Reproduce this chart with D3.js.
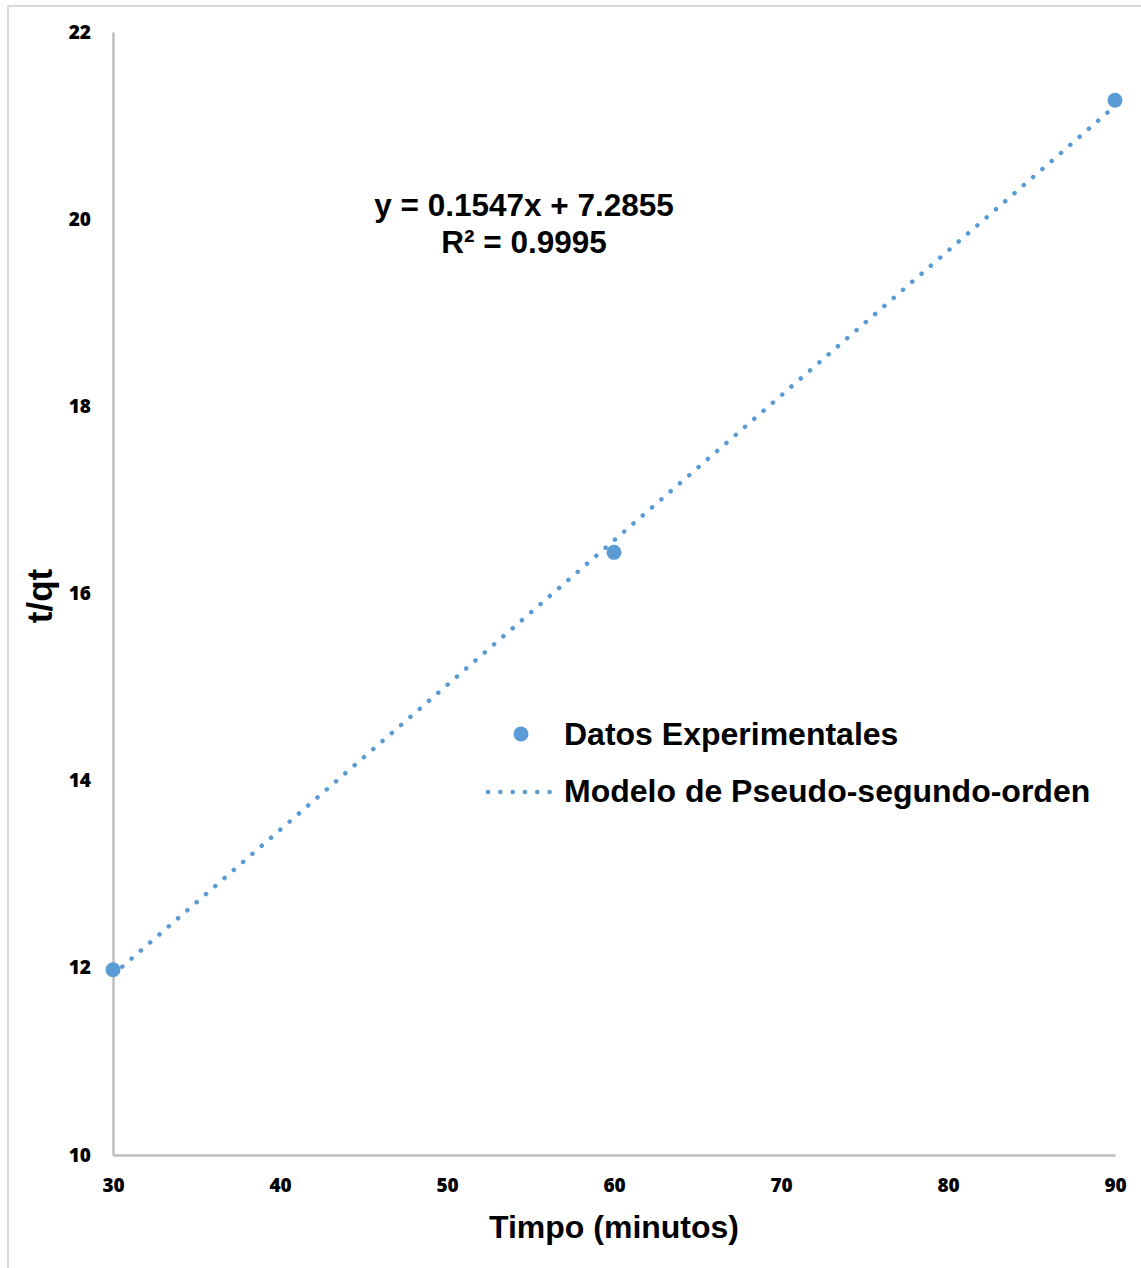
<!DOCTYPE html>
<html>
<head>
<meta charset="utf-8">
<script src="https://cdn.jsdelivr.net/npm/d3@7"></script>
<style>
  html, body { margin: 0; padding: 0; background: #fff; }
  svg { display: block; }
</style>
</head>
<body>
<script>
// Kinetic data: time (min) vs t/qt
const tiempo = [30, 60, 90];
const tqt = [11.98, 16.44, 21.27];

// Linear fit of the pseudo-second-order model
const slope = 0.1547;
const intercept = 7.2855;
const r2 = 0.9995;

const xTicks = [30, 40, 50, 60, 70, 80, 90];
const yTicks = [10, 12, 14, 16, 18, 20, 22];

const seriesNames = ["Datos Experimentales", "Modelo de Pseudo-segundo-orden"];

const W = 1141, H = 1268;
const color = "#5b9bd5";
const tickFont = "'Open Sans', sans-serif";
const labelFont = "'Liberation Sans', Arial, sans-serif";

const svg = d3.select("body").append("svg")
  .attr("width", W).attr("height", H);

// chart area frame
svg.append("rect")
  .attr("x", 8).attr("y", 6)
  .attr("width", W + 20).attr("height", H + 20)
  .attr("fill", "#fff")
  .attr("stroke", "#d9d9d9").attr("stroke-width", 2);

const x = d3.scaleLinear().domain([30, 90]).range([113, 1115]);
const y = d3.scaleLinear().domain([10, 22]).range([1155, 32]);

// axes (lines only, no tick marks)
const xAxis = d3.axisBottom(x).tickValues(xTicks).tickSize(0).tickPadding(24);
const yAxis = d3.axisLeft(y).tickValues(yTicks).tickSize(0).tickPadding(22);

const gx = svg.append("g").attr("transform", `translate(0,${y(10)})`).call(xAxis);
gx.select(".domain").attr("stroke", "#bfbfbf").attr("stroke-width", 2.5);
gx.selectAll("text")
  .attr("font-family", tickFont).attr("font-weight", 800)
  .attr("font-size", 19).attr("fill", "#000");

const gy = svg.append("g").attr("transform", `translate(${x(30)},0)`).call(yAxis);
gy.select(".domain").attr("stroke", "#bfbfbf").attr("stroke-width", 2.5);
gy.selectAll("text")
  .attr("font-family", tickFont).attr("font-weight", 800)
  .attr("font-size", 19).attr("fill", "#000");

// trend line
const xs = [30, 90];
svg.append("line")
  .attr("x1", x(xs[0])).attr("y1", y(slope * xs[0] + intercept))
  .attr("x2", x(xs[1])).attr("y2", y(slope * xs[1] + intercept))
  .attr("stroke", color).attr("stroke-width", 4.5)
  .attr("stroke-linecap", "round")
  .attr("stroke-dasharray", "0.1 12.2");

// experimental points
svg.selectAll("circle.pt").data(tiempo).join("circle")
  .attr("class", "pt")
  .attr("cx", (d) => x(d))
  .attr("cy", (d, i) => y(tqt[i]))
  .attr("r", 7.5)
  .attr("fill", color);

// equation text
const eq = svg.append("text")
  .attr("font-family", labelFont).attr("font-weight", "bold")
  .attr("font-size", 31.5).attr("fill", "#000")
  .attr("text-anchor", "middle");
eq.append("tspan").attr("x", 524).attr("y", 216)
  .text(`y = ${slope}x + ${intercept}`);
eq.append("tspan").attr("x", 524).attr("y", 253)
  .text(`R² = ${r2}`);

// axis titles
svg.append("text")
  .attr("x", 614).attr("y", 1238)
  .attr("text-anchor", "middle")
  .attr("font-family", labelFont).attr("font-weight", "bold")
  .attr("font-size", 32).attr("fill", "#000")
  .text("Timpo (minutos)");

svg.append("text")
  .attr("transform", "translate(52,596) rotate(-90)")
  .attr("text-anchor", "middle")
  .attr("font-family", labelFont).attr("font-weight", "bold")
  .attr("font-size", 35).attr("fill", "#000")
  .text("t/qt");

// legend
const lg = svg.append("g");
lg.append("circle").attr("cx", 521).attr("cy", 734).attr("r", 7.5).attr("fill", color);
lg.append("line")
  .attr("x1", 488).attr("y1", 792).attr("x2", 552).attr("y2", 792)
  .attr("stroke", color).attr("stroke-width", 4.5)
  .attr("stroke-linecap", "round")
  .attr("stroke-dasharray", "0.1 12.2");
lg.selectAll("text").data(seriesNames).join("text")
  .attr("x", 564)
  .attr("y", (d, i) => 745 + i * 57)
  .attr("font-family", labelFont).attr("font-weight", "bold")
  .attr("font-size", 32).attr("fill", "#000")
  .text((d) => d);
</script>
</body>
</html>
